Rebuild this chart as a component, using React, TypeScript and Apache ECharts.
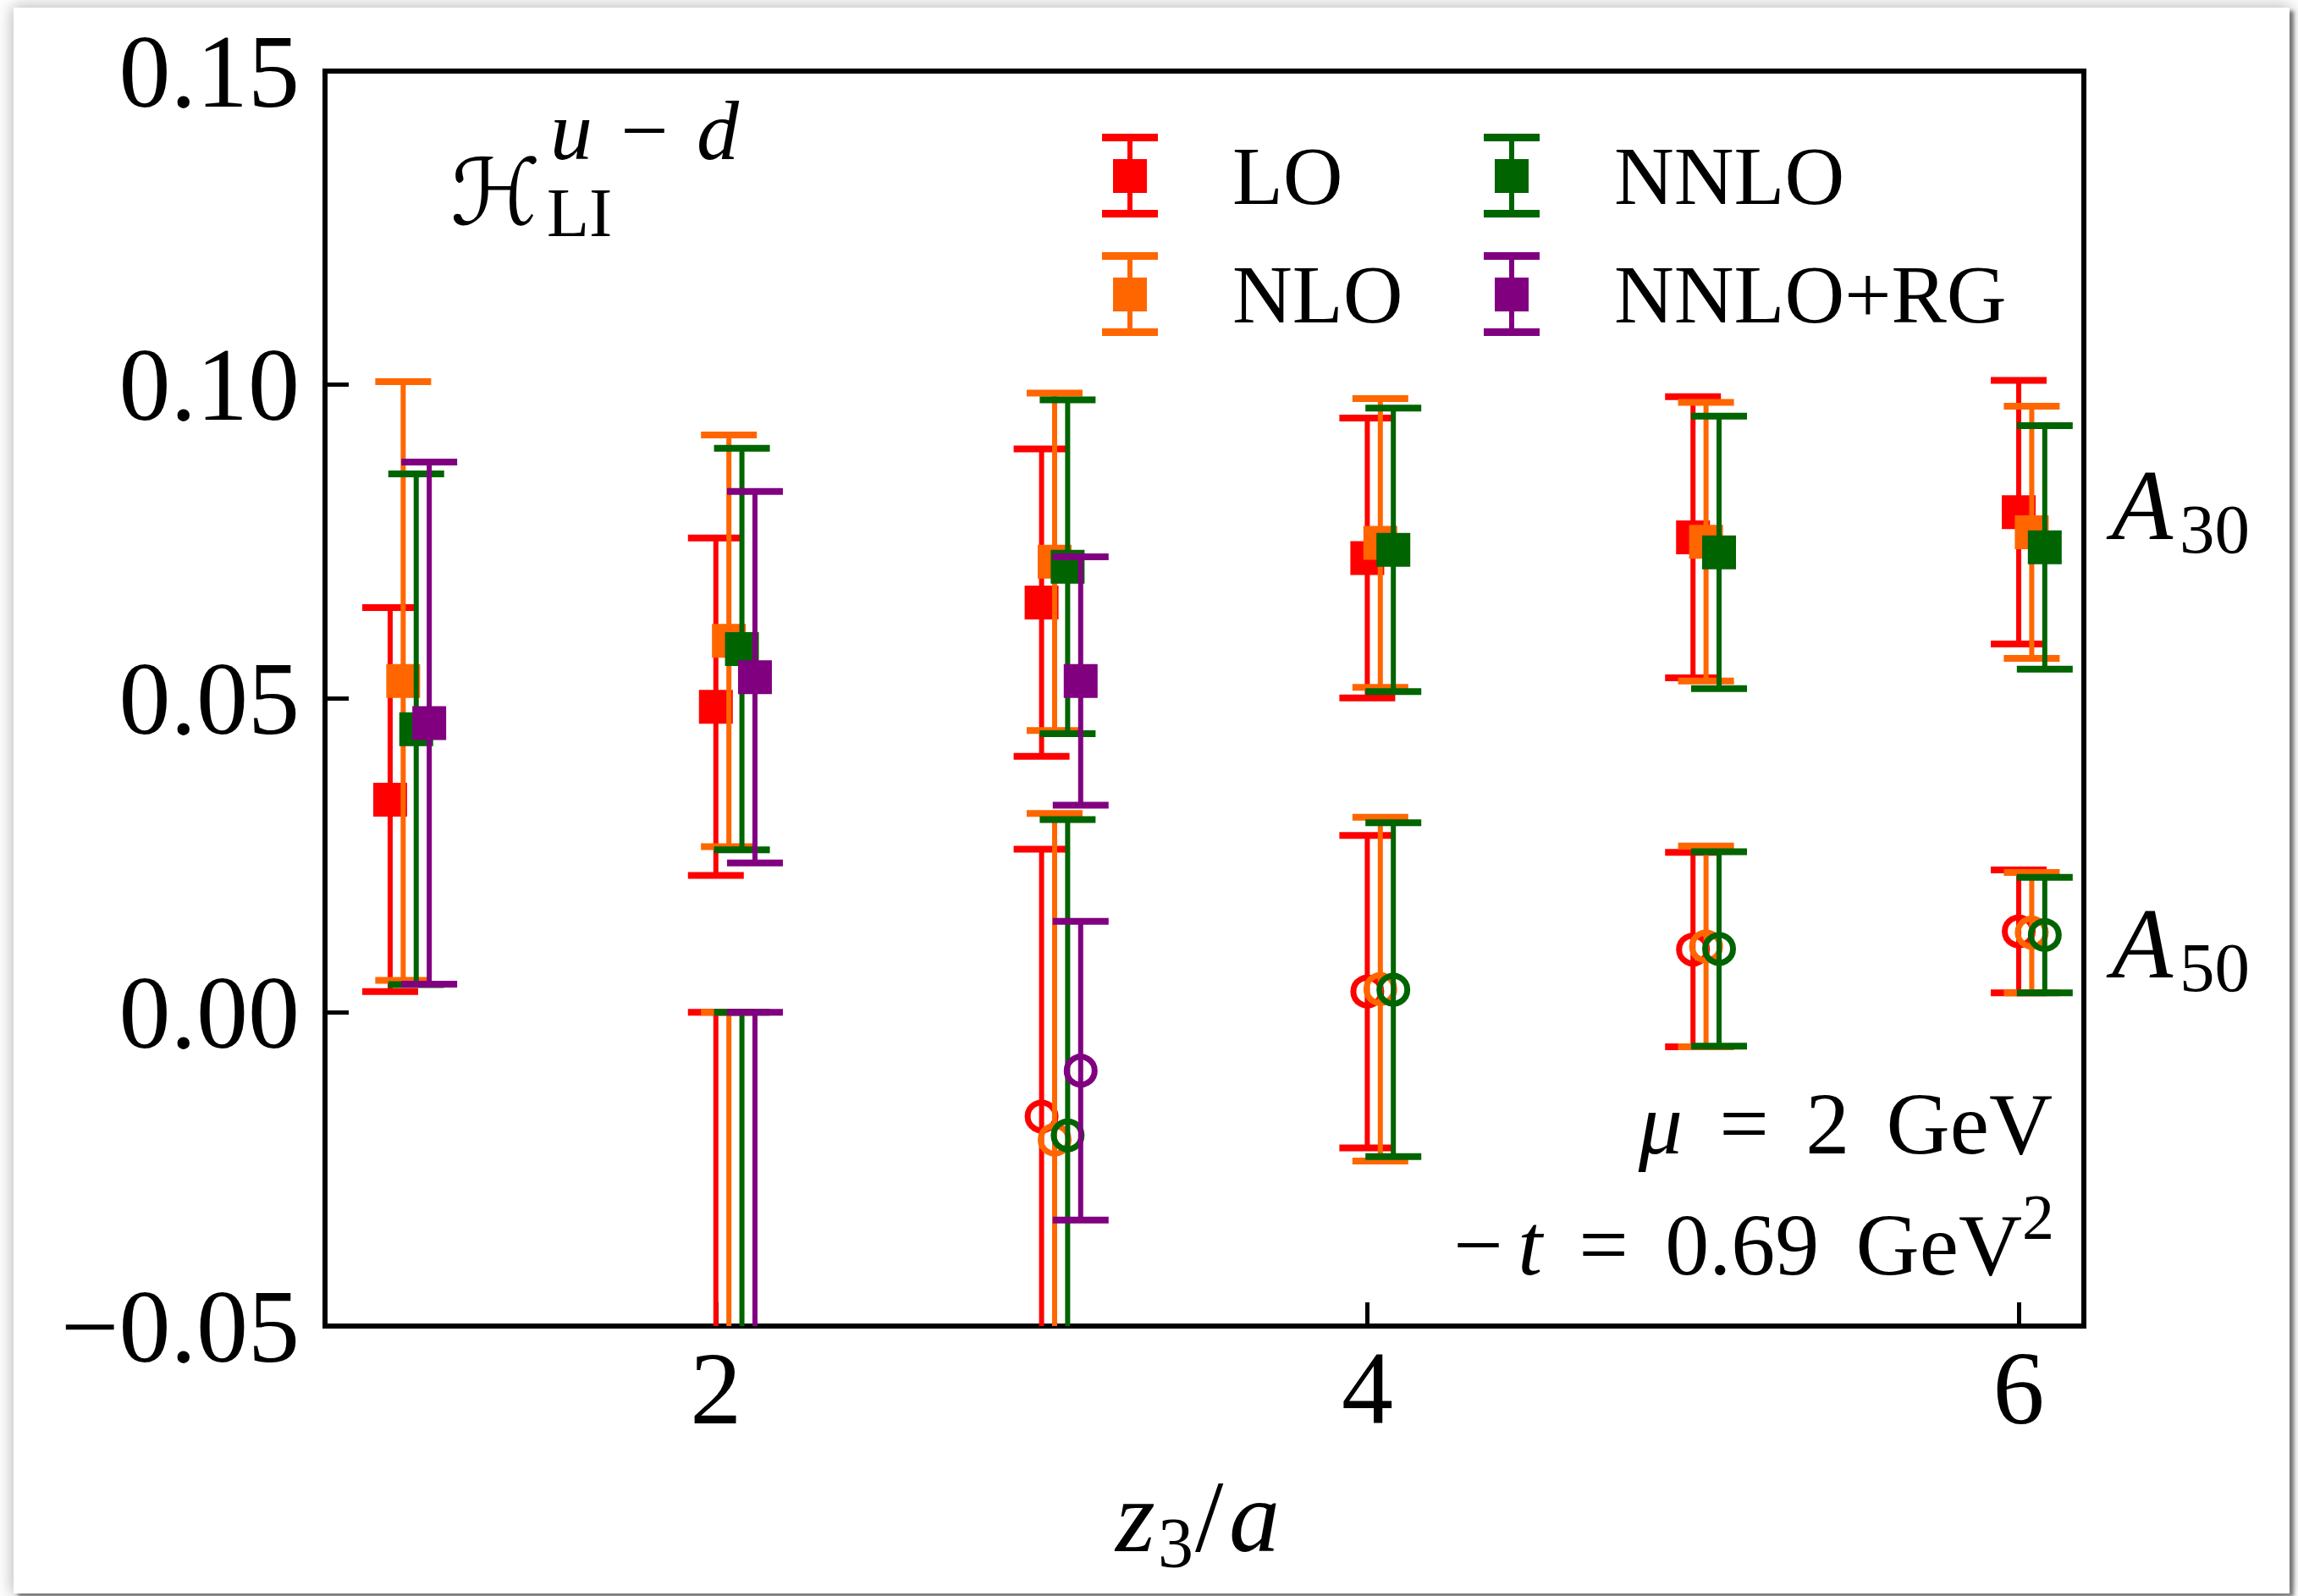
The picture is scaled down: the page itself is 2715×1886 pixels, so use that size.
import React, { useEffect, useRef } from "react";
import * as echarts from "echarts";

const SERIF = '"Liberation Serif", "Times New Roman", serif';
const SCRIPT = '"DejaVu Serif", "DejaVu Sans", serif';

// perturbative orders, colours and horizontal offsets of the four determinations
const orderNames = ["LO", "NLO", "NNLO", "NNLO+RG"];
const orderColors = ["#ff0000", "#ff6600", "#006400", "#800080"];
const orderOffsets = [0, 0.04, 0.08, 0.12];

// z3/a values
const zA30 = [1, 2, 3, 4, 5, 6];
const zA30RG = [1, 2, 3];
const zA50 = [2, 3, 4, 5, 6];
const zA50RG = [2, 3];

// A30 (filled squares)
const loA30 = [0.0339, 0.0487, 0.0653, 0.0724, 0.0757, 0.0797];
const loA30Err = [0.0306, 0.0269, 0.0245, 0.0223, 0.0224, 0.021];
const nloA30 = [0.0528, 0.0592, 0.0718, 0.0748, 0.075, 0.0765];
const nloA30Err = [0.0477, 0.0328, 0.0269, 0.023, 0.0222, 0.0201];
const nnloA30 = [0.0451, 0.0579, 0.071, 0.0737, 0.0733, 0.0741];
const nnloA30Err = [0.0407, 0.032, 0.0266, 0.0226, 0.0217, 0.0194];
const rgA30 = [0.0461, 0.0534, 0.0528];
const rgA30Err = [0.0416, 0.0296, 0.0198];

// A50 (open circles)
const loA50 = [-0.1, -0.0166, 0.0033, 0.01, 0.0129];
const loA50Err = [0.1, 0.0426, 0.0249, 0.0155, 0.0098];
const nloA50 = [-0.1, -0.0203, 0.0037, 0.0105, 0.0127];
const nloA50Err = [0.1, 0.052, 0.0274, 0.016, 0.0096];
const nnloA50 = [-0.1, -0.0196, 0.0036, 0.0101, 0.0123];
const nnloA50Err = [0.1, 0.0503, 0.0266, 0.0155, 0.0092];
const rgA50 = [-0.1, -0.0093];
const rgA50Err = [0.1, 0.0238];

// axis ticks
const xTicks = [2, 4, 6];
const yMin = -0.05;
const yMax = 0.15;
const yStep = 0.05;

const CAP_HALF = 33;

const toPoints = (z: number[], v: number[], e: number[], off: number) =>
  z.map((zz, i) => [zz + off, v[i], e[i]]);

const makeRender =
  (marker: "square" | "circle", color: string) => (params: any, api: any) => {
    const x = api.value(0);
    const y = api.value(1);
    const e = api.value(2);
    const c = api.coord([x, y]);
    const hi = api.coord([x, y + e]);
    const lo = api.coord([x, y - e]);
    const cs = params.coordSys;
    const top = cs.y;
    const bottom = cs.y + cs.height;
    const clamp = (p: number) => Math.max(top, Math.min(bottom, p));
    const children: any[] = [
      {
        type: "line",
        shape: { x1: c[0], y1: clamp(hi[1]), x2: c[0], y2: clamp(lo[1]) },
        style: { stroke: color, lineWidth: 6 },
      },
    ];
    [hi[1], lo[1]].forEach((py: number) => {
      if (py >= top - 1 && py <= bottom + 1) {
        children.push({
          type: "line",
          shape: { x1: c[0] - CAP_HALF, y1: py, x2: c[0] + CAP_HALF, y2: py },
          style: { stroke: color, lineWidth: 8 },
        });
      }
    });
    if (c[1] >= top && c[1] <= bottom) {
      if (marker === "square") {
        children.push({
          type: "rect",
          shape: { x: c[0] - 20, y: c[1] - 20, width: 40, height: 40 },
          style: { fill: color },
        });
      } else {
        children.push({
          type: "circle",
          shape: { cx: c[0], cy: c[1], r: 16.5 },
          style: { fill: "none", stroke: color, lineWidth: 7 },
        });
      }
    }
    return { type: "group", children };
  };

const a30Sets = [
  toPoints(zA30, loA30, loA30Err, orderOffsets[0]),
  toPoints(zA30, nloA30, nloA30Err, orderOffsets[1]),
  toPoints(zA30, nnloA30, nnloA30Err, orderOffsets[2]),
  toPoints(zA30RG, rgA30, rgA30Err, orderOffsets[3]),
];
const a50Sets = [
  toPoints(zA50, loA50, loA50Err, orderOffsets[0]),
  toPoints(zA50, nloA50, nloA50Err, orderOffsets[1]),
  toPoints(zA50, nnloA50, nnloA50Err, orderOffsets[2]),
  toPoints(zA50RG, rgA50, rgA50Err, orderOffsets[3]),
];

const series: any[] = [];
orderNames.forEach((name, k) => {
  [
    { data: a30Sets[k], marker: "square" as const },
    { data: a50Sets[k], marker: "circle" as const },
  ].forEach((s) => {
    series.push({
      type: "custom",
      name,
      data: s.data,
      dimensions: ["x", "y", "err"],
      encode: { x: 0, y: 1 },
      clip: true,
      silent: true,
      itemStyle: { color: orderColors[k] },
      renderItem: makeRender(s.marker, orderColors[k]),
    });
  });
});

const legendIcon =
  "path://M0,0H66V9H0Z M30,9H36V90H30Z M13,30H53V70H13Z M0,90H66V99H0Z";

const legendBase = {
  orient: "vertical",
  top: 158,
  padding: 0,
  itemWidth: 66,
  itemHeight: 99,
  itemGap: 41,
  icon: legendIcon,
  selectedMode: false,
  textStyle: {
    fontFamily: SERIF,
    fontSize: 98,
    color: "#000",
    padding: [0, 0, 0, 83],
  },
};

const txt = (
  text: string,
  x: number,
  y: number,
  size: number,
  opts: any = {}
) => ({
  type: "text",
  x,
  y,
  silent: true,
  style: {
    text,
    fontSize: size,
    fontFamily: SERIF,
    fill: "#000",
    align: "left",
    verticalAlign: "middle",
    ...opts,
  },
});

const italic = { fontStyle: "italic", fontFamily: SERIF };
// spacing used around relations in the annotations
const GAP = "\u2005\u2006";

const graphic: any[] = [
  // H_LI^{u-d}
  txt("\u210B", 532, 227, 108, { fontFamily: SCRIPT }),
  txt("LI", 646, 251, 82),
  txt("{i|u}\u2004\u2212\u2004{i|d}", 650, 154, 100, {
    rich: { i: { ...italic, fontSize: 100 } },
  }),
  // A30 / A50
  txt("A", 2495, 597, 118, { fontStyle: "italic" }),
  txt("30", 2575, 625, 83),
  txt("A", 2495, 1115, 118, { fontStyle: "italic" }),
  txt("50", 2575, 1143, 83),
  // kinematics
  txt(`{i|\u03bc}${GAP}=${GAP}2${GAP}GeV`, 2425, 1327, 104, {
    align: "right",
    rich: { i: { ...italic, fontSize: 104 } },
  }),
  txt(`\u2212\u2006{i|t}${GAP}=${GAP}0.69${GAP}GeV`, 2389, 1470, 104, {
    align: "right",
    rich: { i: { ...italic, fontSize: 104 } },
  }),
  txt("2", 2389, 1438, 76),
  // x-axis title z3/a
  txt("z", 1318, 1792, 120, { fontStyle: "italic" }),
  txt("3", 1368, 1823, 84),
  txt("/", 1412, 1792, 120),
  txt("a", 1452, 1792, 120, { fontStyle: "italic" }),
];

const option: any = {
  animation: false,
  color: orderColors,
  grid: {
    left: 384,
    right: 253,
    top: 84,
    bottom: 319,
    show: true,
    borderColor: "#000",
    borderWidth: 6,
    backgroundColor: "transparent",
  },
  xAxis: {
    type: "value",
    min: 0.8,
    max: 6.2,
    axisLine: { show: false, onZero: false },
    splitLine: { show: false },
    axisTick: {
      show: true,
      inside: true,
      length: 28,
      customValues: xTicks,
      lineStyle: { color: "#000", width: 5 },
    },
    axisLabel: {
      customValues: xTicks,
      fontSize: 122,
      fontFamily: SERIF,
      color: "#000",
      margin: 12,
    },
  },
  yAxis: {
    type: "value",
    min: yMin,
    max: yMax,
    interval: yStep,
    axisLine: { show: false, onZero: false },
    splitLine: { show: false },
    axisTick: {
      show: true,
      inside: true,
      length: 28,
      lineStyle: { color: "#000", width: 5 },
    },
    axisLabel: {
      fontSize: 122,
      fontFamily: SERIF,
      color: "#000",
      margin: 30,
      formatter: (v: number) => v.toFixed(2).replace("-", "\u2212"),
    },
  },
  legend: [
    { ...legendBase, left: 1302, data: ["LO", "NLO"] },
    { ...legendBase, left: 1753, data: ["NNLO", "NNLO+RG"] },
  ],
  graphic,
  series,
};

export default function App() {
  const ref = useRef<HTMLDivElement>(null);
  useEffect(() => {
    document.body.style.margin = "0";
    const chart = echarts.init(ref.current as HTMLDivElement, null, {
      renderer: "svg",
    });
    chart.setOption(option);
    return () => chart.dispose();
  }, []);
  return (
    <div
      style={{
        position: "relative",
        width: 2715,
        height: 1886,
        background: "#ffffff",
        overflow: "hidden",
      }}
    >
      <div
        style={{
          position: "absolute",
          left: 16,
          top: 9,
          width: 2689,
          height: 1874,
          background: "#ffffff",
          boxShadow:
            "0 0 18px 2px rgba(0,0,0,0.28), 5px 4px 4px rgba(0,0,0,0.45)",
        }}
      />
      <div
        ref={ref}
        style={{ position: "absolute", left: 0, top: 0, width: 2715, height: 1886 }}
      />
    </div>
  );
}
